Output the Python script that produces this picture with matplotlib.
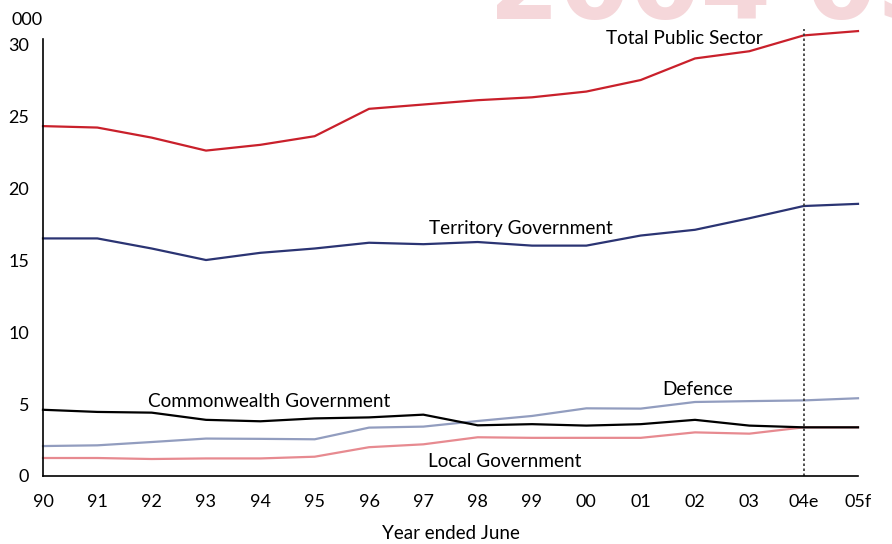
import numpy as np
import matplotlib.pyplot as plt

plt.rcParams["font.family"] = ["Lato", "DejaVu Sans"]

# Employment, thousands, year ended June
years = ["90", "91", "92", "93", "94", "95", "96", "97", "98", "99",
         "00", "01", "02", "03", "04e", "05f"]

total_public = [24.3, 24.2, 23.5, 22.6, 23.0, 23.6, 25.5, 25.8, 26.1, 26.3,
                26.7, 27.5, 29.0, 29.5, 30.6, 30.9]
territory = [16.5, 16.5, 15.8, 15.0, 15.5, 15.8, 16.2, 16.1, 16.25, 16.0,
             16.0, 16.7, 17.1, 17.9, 18.75, 18.9]
commonwealth = [4.6, 4.45, 4.4, 3.9, 3.8, 4.0, 4.07, 4.26, 3.52, 3.6,
                3.5, 3.6, 3.9, 3.5, 3.38, 3.38]
defence = [2.08, 2.13, 2.36, 2.6, 2.58, 2.55, 3.36, 3.43, 3.82, 4.17,
           4.7, 4.68, 5.14, 5.2, 5.25, 5.4]
local = [1.25, 1.25, 1.18, 1.22, 1.22, 1.34, 2.0, 2.2, 2.69, 2.65,
         2.65, 2.65, 3.03, 2.94, 3.38, 3.38]

x = np.arange(len(years))

fig = plt.figure(figsize=(8.92, 5.44), dpi=100)
ax = fig.add_axes([43 / 892, 68 / 544, 815 / 892, 437 / 544])

# faint watermark behind the plot
fig.text(489 / 892, 1 - 19 / 544, "2004 05", fontsize=73, fontweight="bold",
         color="#f5d7da", family="DejaVu Sans", ha="left", va="baseline", zorder=0)

ax.set_facecolor("none")
ax.plot(x, total_public, color="#c9202b", lw=1.6, clip_on=False)
ax.plot(x, territory, color="#2b3473", lw=1.6, clip_on=False)
ax.plot(x, defence, color="#929dbf", lw=1.6, clip_on=False)
ax.plot(x, local, color="#e78a90", lw=1.6, clip_on=False)
ax.plot(x, commonwealth, color="black", lw=1.6, clip_on=False)

ax.axvline(14, ymin=0, ymax=1.023, color="#333333", lw=1.2,
           linestyle=(0, (1.5, 1.5)), clip_on=False)

ax.set_xlim(0, 15)
ax.set_ylim(0, 30.35)
ax.set_xticks(x)
ax.set_xticklabels(years)
ax.set_yticks([0, 5, 10, 15, 20, 25, 30])
ax.tick_params(length=0, labelsize=13, colors="black")
ax.tick_params(axis="x", pad=13)
ax.tick_params(axis="y", pad=10)

for s in ["top", "right"]:
    ax.spines[s].set_visible(False)
for s in ["left", "bottom"]:
    ax.spines[s].set_linewidth(1.2)

ax.text(0.0, 1.043, "000", transform=ax.transAxes, fontsize=13,
        ha="right", va="center")

lab = dict(fontsize=13.7, ha="center", va="center", color="black")
ax.text(11.8, 30.4, "Total Public Sector", **lab)
ax.text(8.8, 17.2, "Territory Government", **lab)
ax.text(4.17, 5.2, "Commonwealth Government", **lab)
ax.text(12.05, 6.0, "Defence", **lab)
ax.text(8.5, 1.0, "Local Government", **lab)

ax.set_xlabel("Year ended June", fontsize=13.5, labelpad=11)

fig.savefig("out.png", dpi=100)
